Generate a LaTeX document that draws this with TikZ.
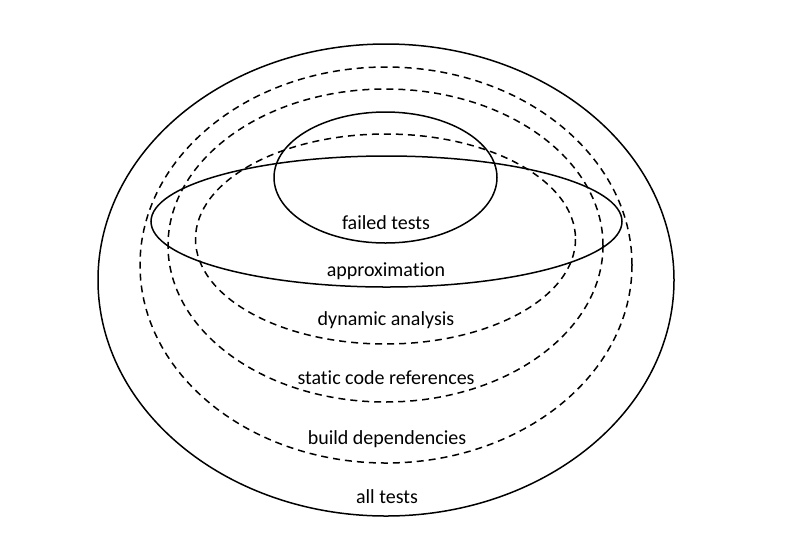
\documentclass[tikz,border=0pt]{standalone}
\usepackage{fontspec}
\setmainfont{Carlito}[Ligatures={NoCommon}]
\begin{document}
\begin{tikzpicture}[x=1pt,y=-1pt,
  solidring/.style={draw=black,line width=1.5pt},
  dashring/.style={draw=black,line width=1.5pt,dash pattern=on 7pt off 5pt},
  lbl/.style={font=\fontsize{20}{23}\selectfont,inner sep=0pt,anchor=center}]
\useasboundingbox (0,0) rectangle (792,542);
\fill[white] (0,0) rectangle (792,542);
% all tests
\draw[solidring] (386,280) ellipse [x radius=288, y radius=236];
% build dependencies
\draw[dashring] (386,265) ellipse [x radius=246, y radius=198];
% static code references
\draw[dashring] (385.5,245.5) ellipse [x radius=217.5, y radius=156.5];
% dynamic analysis
\draw[dashring] (385.5,239) ellipse [x radius=190, y radius=105];
% approximation
\draw[solidring] (386.5,221.5) ellipse [x radius=235.5, y radius=65.5];
% failed tests
\draw[solidring] (385.5,177.5) ellipse [x radius=111.5, y radius=65.5];
\node[lbl] (failed) at (386,223) {failed tests};
\node[lbl] (approx) at (386,271) {approximation};
\node[lbl] (dyn) at (386,320) {dynamic analysis};
\node[lbl] (static) at (386,378) {static code references};
\node[lbl] (build) at (387,439) {build dependencies};
\node[lbl] (all) at (387,497) {all tests};
\end{tikzpicture}
\end{document}
